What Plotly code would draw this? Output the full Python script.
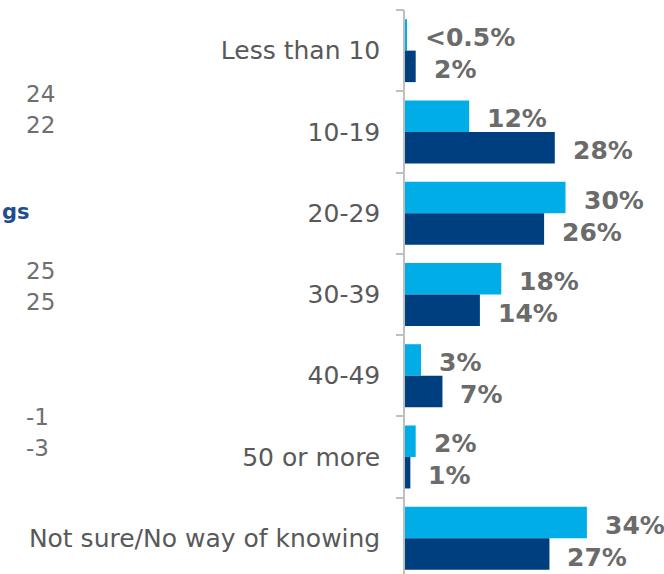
import plotly.graph_objects as go

# Age bands and the share of respondents in each, for two survey waves
categories = ["Less than 10", "10-19", "20-29", "30-39", "40-49", "50 or more",
              "Not sure/No way of knowing"]
series_a = [0.3, 12, 30, 18, 3, 2, 34]
series_b = [2, 28, 26, 14, 7, 1, 27]
labels_a = ["<0.5%", "12%", "30%", "18%", "3%", "2%", "34%"]
labels_b = ["2%", "28%", "26%", "14%", "7%", "1%", "27%"]

# Fragments of the neighbouring table that sits to the left
side_numbers = ["24", "22", "25", "25", "-1", "-3"]
side_number_y = [94, 125, 271, 302, 417, 448]
side_heading = "gs"

LIGHT = "#00ADE6"
DARK = "#003F7F"
LABEL_GREY = "#6B6B6B"
AXIS_GREY = "#BFBFBF"
FONT = "DejaVu Sans"

W, H = 664, 574
ML, MT = 405, 10
PW, PH = W - ML, H - MT

fig = go.Figure()
fig.add_trace(go.Bar(y=categories, x=series_a, orientation="h",
                     marker=dict(color=LIGHT, line=dict(width=0)), name="A"))
fig.add_trace(go.Bar(y=categories, x=series_b, orientation="h",
                     marker=dict(color=DARK, line=dict(width=0)), name="B"))

annotations = []
for cat, v, t in zip(categories, series_a, labels_a):
    annotations.append(dict(x=v, y=cat, xref="x", yref="y", text=t, showarrow=False,
                            xanchor="left", yanchor="middle", xshift=16, yshift=13,
                            font=dict(family=FONT, size=25, color=LABEL_GREY, weight="bold")))
for cat, v, t in zip(categories, series_b, labels_b):
    annotations.append(dict(x=v, y=cat, xref="x", yref="y", text=t, showarrow=False,
                            xanchor="left", yanchor="middle", xshift=16, yshift=-19,
                            font=dict(family=FONT, size=25, color=LABEL_GREY, weight="bold")))


def px_to_paper(px, py):
    return (px - ML) / PW, (H - py) / PH


for t, yy in zip(side_numbers, side_number_y):
    ax, ay = px_to_paper(24, yy)
    annotations.append(dict(x=ax, y=ay, xref="paper", yref="paper", text=t,
                            showarrow=False, xanchor="left", yanchor="middle",
                            font=dict(family=FONT, size=23, color="#6F6F6F")))
ax, ay = px_to_paper(0, 212)
annotations.append(dict(x=ax, y=ay, xref="paper", yref="paper",
                        text=side_heading, showarrow=False, xanchor="left", yanchor="middle",
                        font=dict(family=FONT, size=21, color="#1F4E8C", weight="bold")))

n = len(categories)
boundaries = [i - 0.5 for i in range(n + 1)]
y_range = [6.44, -0.5]

fig.update_layout(
    width=W, height=H,
    margin=dict(l=ML, r=0, t=MT, b=0),
    paper_bgcolor="white", plot_bgcolor="white",
    barmode="group", bargap=0.225, bargroupgap=0,
    showlegend=False,
    annotations=annotations,
    xaxis=dict(range=[0, PW / 5.35], visible=False, fixedrange=True),
    yaxis=dict(type="category", range=y_range, showline=True, linecolor=AXIS_GREY,
               linewidth=1.5, ticks="", showgrid=False, zeroline=False,
               ticklabelstandoff=18,
               tickfont=dict(family=FONT, size=25, color="#595959")),
    yaxis2=dict(overlaying="y", range=y_range, tickvals=boundaries, ticks="outside",
                ticklen=8, tickcolor=AXIS_GREY, tickwidth=1.5, showticklabels=False,
                showgrid=False, zeroline=False, showline=False, side="left"),
)
# invisible carrier so the boundary tick axis is drawn
fig.add_trace(go.Scatter(x=[0], y=[0], yaxis="y2", mode="markers",
                         marker=dict(opacity=0), hoverinfo="skip", showlegend=False))

fig.write_html("out.html")
